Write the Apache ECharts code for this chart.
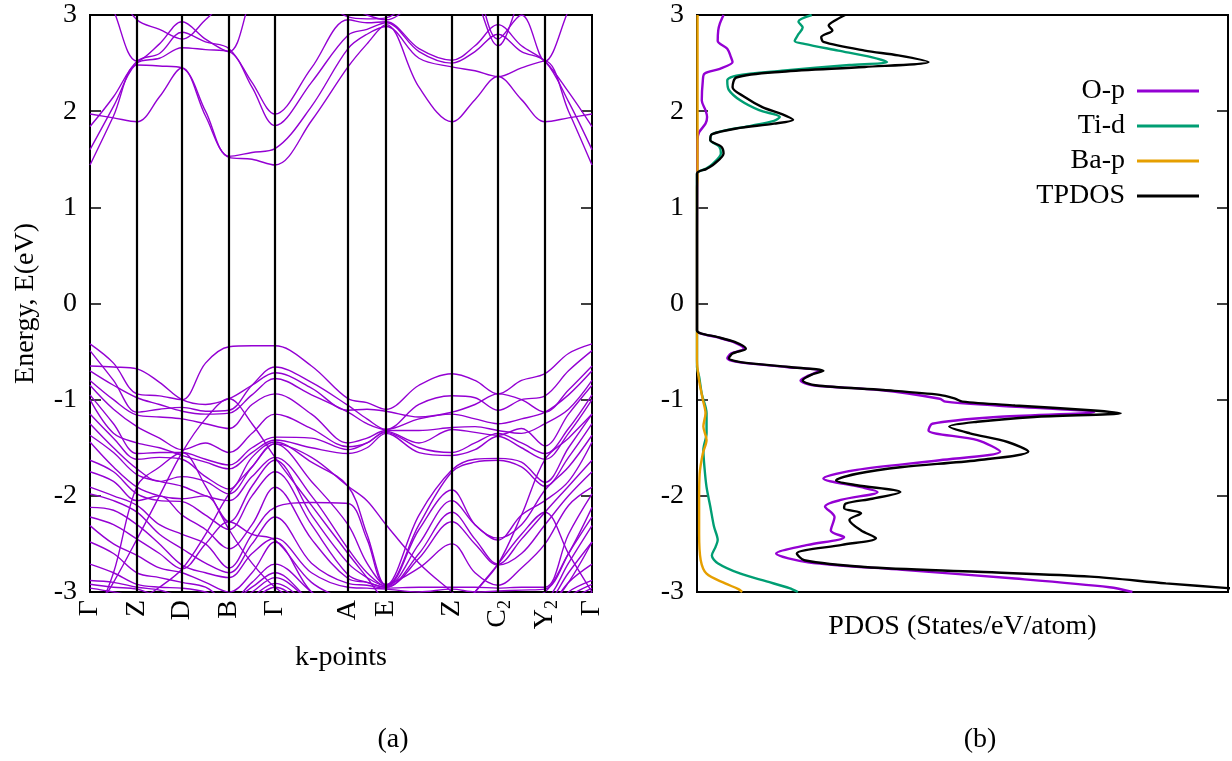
<!DOCTYPE html>
<html><head><meta charset="utf-8">
<script src="https://cdn.jsdelivr.net/npm/echarts@6/dist/echarts.min.js"></script>
<style>html,body{margin:0;padding:0;background:#fff}#c{width:1232px;height:761px}</style>
</head><body><div id="c"></div>
<script>
// ---------- DATA ----------
// k-path coordinate (symmetry points and midpoints)
const KPATH = [0, 23.5, 47, 69.5, 92, 115.5, 139, 162, 185, 221.5, 258, 277, 296, 329, 362, 385, 408, 431.5, 455, 478.5, 502];
const SYM_POS = [0, 47, 92, 139, 185, 258, 296, 362, 408, 455, 502];
const SYM_LABELS = ['Γ', 'Z', 'D', 'B', 'Γ', 'A', 'E', 'Z', 'C_2', 'Y_2', 'Γ'];
const ENERGY_MIN = -3, ENERGY_MAX = 3;

// conduction bands (eV) along KPATH
const CB1 = [1.97,1.93,1.89,2.15,2.45,1.95,1.52,1.50,1.44,1.90,2.46,2.70,2.90,2.25,1.89,2.12,2.36,2.12,1.89,1.93,1.97];
const CB2 = [1.44,1.95,2.48,2.47,2.45,2.00,1.53,1.57,1.61,2.05,2.65,2.80,2.88,2.55,2.46,2.42,2.36,2.45,2.52,2.00,1.44];
const CB3 = [1.60,2.05,2.50,2.55,2.66,2.64,2.62,2.25,1.85,2.30,2.79,2.85,2.92,2.62,2.50,2.62,2.80,2.62,2.52,2.10,1.60];
const CB4 = [1.84,2.15,2.52,2.60,2.82,2.72,2.65,2.30,1.97,2.45,2.95,2.92,2.93,2.65,2.53,2.68,2.90,2.68,2.52,2.20,1.84];
const CB5 = [3.60,3.05,2.52,2.70,2.93,2.75,2.62,3.20,3.60,3.40,3.10,3.00,2.95,3.20,3.50,3.30,2.75,3.00,2.52,3.05,3.60];
const CB6 = [3.80,3.30,2.95,2.85,2.75,2.95,3.20,3.50,3.60,3.30,2.98,2.96,2.97,3.30,3.60,3.20,2.68,3.20,3.60,3.70,3.80];

// valence bands (eV) along KPATH
const VB01 = [-0.42,-0.62,-0.94,-0.96,-1.00,-0.62,-0.45,-0.44,-0.44,-0.65,-0.99,-1.03,-1.10,-0.85,-0.73,-0.80,-0.94,-0.80,-0.73,-0.52,-0.42];
const VB02 = [-0.49,-0.80,-1.13,-1.10,-1.08,-1.12,-1.11,-0.85,-0.66,-0.82,-1.06,-1.20,-1.31,-1.05,-0.96,-0.98,-1.11,-1.00,-0.96,-0.70,-0.49];
const VB03 = [-0.65,-0.66,-0.68,-0.82,-1.00,-1.05,-0.99,-0.85,-0.72,-0.88,-1.11,-1.10,-1.12,-1.18,-1.13,-1.05,-0.94,-1.00,-1.13,-0.90,-0.65];
const VB04 = [-0.70,-0.85,-0.98,-1.05,-1.12,-1.15,-1.14,-0.95,-0.78,-0.95,-1.13,-1.25,-1.31,-1.20,-1.15,-1.20,-1.25,-1.20,-1.13,-0.95,-0.70];
const VB05 = [-0.80,-1.00,-1.16,-1.18,-1.20,-1.25,-1.30,-1.05,-0.94,-1.15,-1.45,-1.40,-1.32,-1.32,-1.29,-1.28,-1.32,-1.35,-1.25,-1.10,-0.80];
const VB06 = [-0.85,-1.10,-1.28,-1.40,-1.52,-1.45,-1.55,-1.35,-1.15,-1.30,-1.49,-1.45,-1.33,-1.45,-1.31,-1.34,-1.37,-1.30,-1.48,-1.15,-0.85];
const VB07 = [-0.95,-1.25,-1.56,-1.55,-1.55,-1.62,-1.68,-1.50,-1.39,-1.40,-1.52,-1.45,-1.34,-1.50,-1.55,-1.45,-1.35,-1.45,-1.56,-1.30,-0.95];
const VB08 = [-1.00,-1.35,-1.45,-1.50,-1.58,-1.65,-1.72,-1.55,-1.42,-1.50,-1.56,-1.50,-1.35,-1.55,-1.58,-1.52,-1.38,-1.50,-1.62,-1.35,-1.00];
const VB09 = [-1.15,-1.40,-1.62,-1.60,-1.62,-1.80,-1.93,-1.60,-1.44,-1.65,-1.90,-2.40,-2.93,-2.20,-1.73,-1.62,-1.61,-1.65,-1.86,-1.50,-1.15];
const VB10 = [-1.25,-1.50,-1.72,-1.85,-1.80,-1.85,-1.98,-1.70,-1.46,-1.85,-2.30,-2.70,-2.93,-2.30,-1.75,-1.65,-1.63,-1.70,-1.90,-1.60,-1.25];
const VB11 = [-1.37,-1.55,-1.78,-1.85,-1.90,-2.00,-2.05,-1.80,-1.60,-2.00,-2.55,-2.80,-2.94,-2.35,-1.94,-2.30,-2.44,-2.30,-1.94,-1.70,-1.37];
const VB12 = [-1.44,-1.70,-1.91,-2.00,-2.03,-2.00,-2.27,-1.90,-1.63,-2.20,-2.70,-2.85,-2.94,-2.50,-2.05,-2.30,-2.46,-2.20,-2.05,-1.85,-1.44];
const VB13 = [-1.63,-1.75,-1.98,-2.05,-2.06,-2.20,-2.35,-2.00,-1.75,-2.30,-2.82,-2.90,-2.95,-2.60,-2.17,-2.45,-2.71,-2.45,-2.17,-1.90,-1.63];
const VB14 = [-1.75,-1.85,-2.05,-2.00,-2.20,-2.35,-2.55,-2.30,-1.91,-2.45,-2.86,-2.90,-2.95,-2.65,-2.27,-2.50,-2.72,-2.60,-2.30,-2.00,-1.75];
const VB15 = [-1.91,-2.00,-2.10,-2.30,-2.40,-2.50,-2.75,-2.40,-2.12,-2.07,-2.08,-2.45,-2.92,-2.75,-2.50,-2.80,-2.93,-2.75,-2.50,-2.10,-1.91];
const VB16 = [-1.98,-2.05,-2.17,-2.40,-2.55,-2.70,-2.80,-2.50,-2.22,-2.70,-2.91,-2.93,-2.96,-2.95,-2.95,-2.95,-2.96,-2.95,-2.95,-2.40,-1.98];
const VB17 = [-2.12,-2.15,-2.30,-2.50,-2.72,-2.80,-2.85,-2.60,-2.44,-2.80,-2.95,-2.96,-2.97,-3.00,-2.97,-3.00,-2.99,-2.98,-2.97,-2.60,-2.12];
const VB18 = [-2.22,-2.30,-2.45,-2.60,-2.76,-2.50,-2.27,-2.40,-2.46,-2.90,-3.10,-3.20,-3.30,-3.25,-3.20,-3.15,-3.10,-3.05,-3.00,-2.60,-2.22];
const VB19 = [-2.31,-2.50,-2.62,-2.75,-2.80,-2.90,-3.00,-2.80,-2.48,-3.00,-3.20,-3.30,-3.40,-3.35,-3.30,-3.25,-3.20,-3.15,-3.10,-2.70,-2.31];
const VB20 = [-2.48,-2.60,-2.80,-2.85,-2.90,-2.95,-3.10,-2.90,-2.71,-3.00,-3.30,-3.40,-3.50,-3.40,-3.30,-3.30,-3.30,-3.20,-3.15,-2.80,-2.48];
const VB21 = [-2.71,-2.80,-2.92,-2.95,-2.96,-3.00,-3.10,-2.95,-2.80,-3.10,-3.30,-3.40,-3.50,-3.45,-3.40,-3.35,-3.30,-3.25,-3.20,-2.90,-2.71];
const VB22 = [-2.88,-2.90,-2.95,-2.98,-3.05,-3.10,-3.15,-3.00,-2.85,-3.10,-3.30,-3.40,-3.50,-3.45,-3.40,-3.40,-3.35,-3.30,-3.25,-3.00,-2.88];
const VB23 = [-2.92,-2.95,-2.97,-3.05,-3.10,-3.15,-3.20,-3.05,-2.91,-3.15,-3.35,-3.45,-3.50,-3.45,-3.40,-3.40,-3.40,-3.35,-3.30,-3.05,-2.92];
const VB24 = [-2.96,-3.00,-3.05,-3.10,-3.20,-3.25,-3.30,-3.10,-2.95,-3.20,-3.40,-3.50,-3.60,-3.50,-3.45,-3.45,-3.45,-3.40,-3.35,-3.10,-2.96];
// bands rising from below the window and crossing the others
const VB25 = [-3.30,-2.90,-2.45,-2.00,-1.55,-1.20,-0.99,-1.25,-1.60,-2.10,-2.60,-2.85,-3.10,-3.30,-3.40,-3.40,-3.40,-3.40,-3.40,-3.20,-3.00];
const VB26 = [-3.40,-2.80,-1.90,-1.70,-1.55,-1.90,-2.35,-2.70,-2.95,-3.20,-3.40,-3.40,-3.50,-3.40,-3.30,-3.00,-2.71,-2.40,-2.17,-2.60,-3.00];
const VB27 = [-3.50,-3.30,-3.10,-2.95,-2.76,-2.40,-1.98,-1.70,-1.46,-1.60,-1.90,-2.05,-2.30,-2.70,-3.00,-3.20,-3.30,-3.30,-3.20,-2.90,-2.48];
const VB28 = [-3.30,-3.20,-3.10,-3.10,-3.20,-3.30,-3.40,-3.30,-3.20,-3.30,-3.50,-3.50,-3.50,-3.40,-3.30,-3.00,-2.71,-2.20,-1.62,-1.40,-1.15];

const BANDS = [CB1, CB2, CB3, CB4, CB5, CB6,
  VB01, VB02, VB03, VB04, VB05, VB06, VB07, VB08, VB09, VB10, VB11, VB12, VB13, VB14,
  VB15, VB16, VB17, VB18, VB19, VB20, VB21, VB22, VB23, VB24, VB25, VB26, VB27, VB28];

// PDOS: [energy (eV), states/eV/atom]
const PDOS_NAMES = ['O-p', 'Ti-d', 'Ba-p', 'TPDOS'];
const PDOS_OP = [[3.00,0.50],[2.91,0.43],[2.84,0.40],[2.73,0.39],[2.65,0.57],[2.56,0.64],[2.51,0.67],[2.44,0.43],[2.39,0.14],[2.32,0.11],[2.11,0.09],[2.01,0.16],[1.94,0.19],[1.87,0.16],[1.78,0.04],[1.70,0.01],[-0.28,0.0],[-0.31,0.06],[-0.35,0.37],[-0.40,0.68],[-0.47,0.88],[-0.52,0.64],[-0.57,0.57],[-0.61,0.78],[-0.66,1.68],[-0.70,2.30],[-0.75,2.10],[-0.80,1.95],[-0.85,2.18],[-0.90,3.44],[-0.99,4.57],[-1.02,4.68],[-1.06,5.64],[-1.13,7.48],[-1.18,5.64],[-1.25,4.43],[-1.32,4.36],[-1.42,5.28],[-1.54,5.71],[-1.63,4.57],[-1.73,3.01],[-1.82,2.38],[-1.91,3.09],[-1.96,3.40],[-2.04,2.73],[-2.11,2.41],[-2.22,2.59],[-2.36,2.52],[-2.43,2.77],[-2.51,2.09],[-2.60,1.49],[-2.69,2.09],[-2.77,3.87],[-2.86,5.99],[-2.95,7.77],[-3.00,8.20]];
const PDOS_TID = [[3.00,2.16],[2.93,1.91],[2.87,1.99],[2.80,1.91],[2.73,1.84],[2.70,2.02],[2.63,2.66],[2.56,3.30],[2.51,3.58],[2.48,2.87],[2.42,1.60],[2.37,0.74],[2.32,0.57],[2.22,0.60],[2.11,0.82],[2.01,1.17],[1.94,1.56],[1.90,1.45],[1.85,1.03],[1.80,0.53],[1.76,0.28],[1.70,0.25],[1.63,0.42],[1.56,0.45],[1.45,0.29],[1.40,0.16],[1.35,0.0],[-0.66,0.0],[-0.76,0.04],[-0.94,0.09],[-1.14,0.18],[-1.35,0.18],[-1.52,0.12],[-1.70,0.14],[-1.91,0.18],[-2.11,0.25],[-2.32,0.32],[-2.46,0.39],[-2.53,0.35],[-2.62,0.28],[-2.70,0.39],[-2.81,0.82],[-2.89,1.31],[-2.96,1.74],[-3.00,1.90]];
const PDOS_BAP = [[3.00,0.01],[1.30,0.01],[1.20,0.0],[-0.59,0.0],[-0.80,0.04],[-1.00,0.11],[-1.14,0.16],[-1.28,0.12],[-1.42,0.18],[-1.56,0.11],[-1.77,0.05],[-2.04,0.04],[-2.39,0.04],[-2.67,0.07],[-2.81,0.18],[-2.91,0.53],[-2.97,0.78],[-3.00,0.85]];
const PDOS_TOT = [[3.00,2.79],[2.94,2.59],[2.89,2.48],[2.84,2.55],[2.77,2.34],[2.72,2.38],[2.63,3.16],[2.58,3.79],[2.51,4.36],[2.46,3.16],[2.41,1.60],[2.35,0.74],[2.25,0.67],[2.15,0.89],[2.04,1.24],[1.97,1.60],[1.91,1.81],[1.87,1.45],[1.82,0.74],[1.76,0.28],[1.70,0.25],[1.63,0.46],[1.56,0.50],[1.45,0.32],[1.40,0.18],[1.35,0.0],[-0.28,0.0],[-0.31,0.07],[-0.35,0.39],[-0.40,0.71],[-0.47,0.92],[-0.52,0.67],[-0.57,0.60],[-0.61,0.82],[-0.66,1.74],[-0.70,2.38],[-0.74,2.16],[-0.80,1.99],[-0.85,2.23],[-0.90,3.51],[-0.95,4.57],[-0.99,4.86],[-1.02,5.00],[-1.06,5.99],[-1.11,7.41],[-1.14,7.98],[-1.18,6.35],[-1.23,5.28],[-1.28,4.75],[-1.35,5.14],[-1.44,5.85],[-1.54,6.24],[-1.63,5.28],[-1.70,3.87],[-1.77,3.01],[-1.84,2.62],[-1.89,3.01],[-1.96,3.83],[-2.03,3.30],[-2.08,2.80],[-2.13,2.77],[-2.18,3.09],[-2.25,2.87],[-2.36,3.09],[-2.44,3.37],[-2.51,2.73],[-2.60,1.88],[-2.67,2.02],[-2.74,3.16],[-2.79,5.28],[-2.84,7.41],[-2.91,8.83],[-2.96,10.0],[-3.00,11.0]];
const PDOS_MAX = 10;

// ---------- CHART ----------
const FONT = 'Liberation Serif';
const FS = 28;
const PURPLE = '#9400d3', GREEN = '#009e73', ORANGE = '#e69f00', BLACK = '#000000';
const chart = echarts.init(document.getElementById('c'), null, {renderer: 'canvas'});

function kLabel(v) {
  const i = SYM_POS.indexOf(v);
  if (i < 0) return '';
  const s = SYM_LABELS[i];
  if (s.indexOf('_') > 0) {
    const p = s.split('_');
    return '{n|' + p[0] + '}{s|' + p[1] + '}';
  }
  return '{n|' + s + '}';
}

const bandSeries = BANDS.map((b, i) => ({
  type: 'line', name: 'band' + i, xAxisIndex: 0, yAxisIndex: 0,
  data: b.map((e, j) => [KPATH[j], e]),
  showSymbol: false, symbol: 'none', smooth: 0.35, silent: true, z: 2,
  lineStyle: {color: PURPLE, width: 1.4}, itemStyle: {color: PURPLE}
}));

const vlineSeries = {
  type: 'line', name: 'kpoints', xAxisIndex: 0, yAxisIndex: 0, data: [], z: 5, silent: true,
  markLine: {
    silent: true, symbol: ['none', 'none'], label: {show: false}, animation: false,
    lineStyle: {color: BLACK, width: 2.2, type: 'solid'},
    emphasis: {disabled: true},
    data: SYM_POS.slice(1, -1).map(v => ({xAxis: v}))
  }
};

const pdosSets = [PDOS_OP, PDOS_TID, PDOS_BAP, PDOS_TOT];
const pdosColors = [PURPLE, GREEN, ORANGE, BLACK];
const pdosSeries = pdosSets.map((set, i) => ({
  type: 'line', name: PDOS_NAMES[i], xAxisIndex: 1, yAxisIndex: 2,
  data: set.map(p => [p[1], p[0]]),
  showSymbol: false, symbol: 'none', smooth: 0.3, silent: true, z: 3 + i,
  lineStyle: {color: pdosColors[i], width: 2.4}, itemStyle: {color: pdosColors[i]}
}));

const labelStyle = {fontFamily: FONT, fontSize: FS, color: '#000'};
const tickStyle = {show: true, inside: true, length: 11, lineStyle: {color: '#000', width: 1.5}};

function energyAxis(grid, pos, showLabel, name) {
  return {
    type: 'value', gridIndex: grid, position: pos, min: ENERGY_MIN, max: ENERGY_MAX, interval: 1,
    axisLine: {show: false}, axisTick: tickStyle, splitLine: {show: false},
    axisLabel: Object.assign({show: showLabel, margin: 13}, labelStyle),
    name: name || '', nameLocation: 'middle', nameGap: 50,
    nameTextStyle: Object.assign({}, labelStyle)
  };
}

const option = {
  animation: false,
  backgroundColor: '#fff',
  grid: [
    {left: 90, top: 15, width: 502, height: 577, show: true, borderColor: '#000', borderWidth: 2, backgroundColor: 'transparent'},
    {left: 697, top: 15, width: 531, height: 577, show: true, borderColor: '#000', borderWidth: 2, backgroundColor: 'transparent'}
  ],
  xAxis: [
    {
      type: 'value', gridIndex: 0, min: 0, max: SYM_POS[SYM_POS.length - 1],
      axisLine: {show: false}, axisTick: {show: false}, splitLine: {show: false},
      axisLabel: {
        customValues: SYM_POS, showMinLabel: true, showMaxLabel: true, hideOverlap: false,
        rotate: 90, margin: 8, formatter: kLabel,
        rich: {
          n: {fontFamily: FONT, fontSize: FS, color: '#000'},
          s: {fontFamily: FONT, fontSize: 18, color: '#000', padding: [15, 0, 0, 0]}
        }
      },
      name: 'k-points', nameLocation: 'middle', nameGap: 52,
      nameTextStyle: Object.assign({}, labelStyle)
    },
    {
      type: 'value', gridIndex: 1, min: 0, max: PDOS_MAX,
      axisLine: {show: false}, axisTick: {show: false}, splitLine: {show: false}, axisLabel: {show: false},
      name: 'PDOS (States/eV/atom)', nameLocation: 'middle', nameGap: 21,
      nameTextStyle: Object.assign({}, labelStyle)
    }
  ],
  yAxis: [
    energyAxis(0, 'left', true, 'Energy, E(eV)'),
    energyAxis(0, 'right', false),
    energyAxis(1, 'left', true),
    energyAxis(1, 'right', false)
  ],
  legend: {
    data: PDOS_NAMES, orient: 'vertical', right: 28, top: 72, align: 'right',
    icon: 'rect', itemWidth: 62, itemHeight: 3, itemGap: 7, selectedMode: false,
    textStyle: Object.assign({padding: [0, 7, 0, 0]}, labelStyle)
  },
  graphic: [
    {type: 'text', x: 393, y: 740, silent: true,
     style: {text: '(a)', fontFamily: FONT, fontSize: FS, fill: '#000', align: 'center', verticalAlign: 'middle'}},
    {type: 'text', x: 980, y: 740, silent: true,
     style: {text: '(b)', fontFamily: FONT, fontSize: FS, fill: '#000', align: 'center', verticalAlign: 'middle'}}
  ],
  series: bandSeries.concat([vlineSeries]).concat(pdosSeries)
};
chart.setOption(option);
</script>
</body></html>
